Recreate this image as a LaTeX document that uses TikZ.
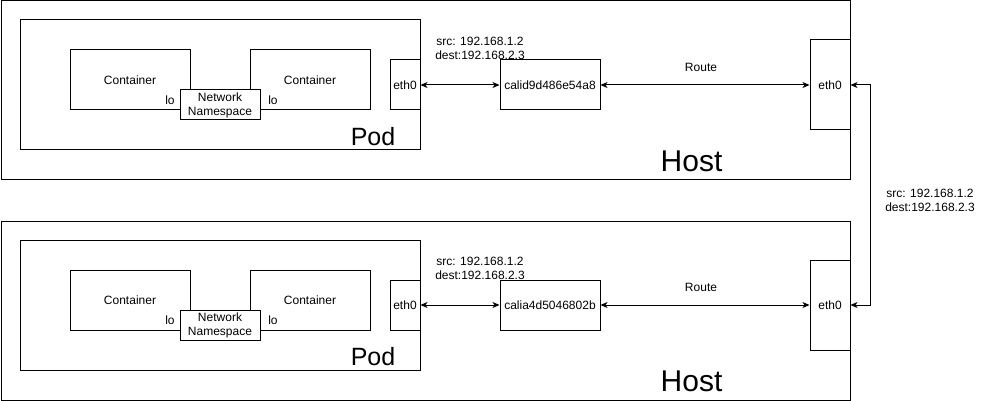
\documentclass[tikz,border=0pt]{standalone}
\usepackage{fontspec}
\setmainfont{Liberation Sans}
\usetikzlibrary{arrows.meta}
\begin{document}
\begin{tikzpicture}[x=1pt,y=-1pt,
  box/.style={draw=black,line width=1pt,fill=white,inner sep=0pt,font=\fontsize{12}{14}\selectfont,align=center},
  lbl/.style={inner sep=0pt,font=\fontsize{12}{14}\selectfont,align=center},
  big/.style={inner sep=0pt,font=\fontsize{25}{28}\selectfont},
  huge/.style={inner sep=0pt,font=\fontsize{30}{33}\selectfont},
  link/.style={line width=1pt,{Stealth[length=7pt,width=6pt,inset=2pt]}-{Stealth[length=7pt,width=6pt,inset=2pt]}}]
\useasboundingbox (0,0) rectangle (991,401);
\foreach \n/\dy/\cal in {1/0/calid9d486e54a8,2/220/calia4d5046802b}{
  \begin{scope}[yshift=-\dy pt]
  \node[box,minimum width=849pt,minimum height=179pt] (host\n) at (425.5,90.5) {};
  \node[box,minimum width=400pt,minimum height=130pt] (pod\n) at (220,85) {};
  \node[box,minimum width=120pt,minimum height=60pt] (ca\n) at (130,80) {Container};
  \node[box,minimum width=120pt,minimum height=60pt] (cb\n) at (310,80) {Container};
  \node[box,minimum width=80pt,minimum height=30pt] (ns\n) at (220,105) {Network\\Namespace};
  \node[lbl] (loa\n) at (170,100) {lo};
  \node[lbl] (lob\n) at (273,100) {lo};
  \node[box,minimum width=30pt,minimum height=50pt] (pe\n) at (405,85) {eth0};
  \node[box,minimum width=100pt,minimum height=50pt] (cal\n) at (550,85) {\cal};
  \node[box,minimum width=40pt,minimum height=90pt] (he\n) at (830,85) {eth0};
  \node[big] (podl\n) at (373,137) {Pod};
  \node[huge] (hostl\n) at (691.5,161) {Host};
  \node[lbl] (ip\n) at (480,48) {src: 192.168.1.2\\dest:192.168.2.3};
  \node[lbl] (rt\n) at (701,67) {Route};
  \draw[link] (pe\n.east) -- (cal\n.west);
  \draw[link] (cal\n.east) -- (he\n.west);
  \end{scope}
}
\draw[link] (he1.east) -- ++(20,0) |- (he2.east);
\node[lbl] (ip3) at (930,200) {src: 192.168.1.2\\dest:192.168.2.3};
\end{tikzpicture}
\end{document}
